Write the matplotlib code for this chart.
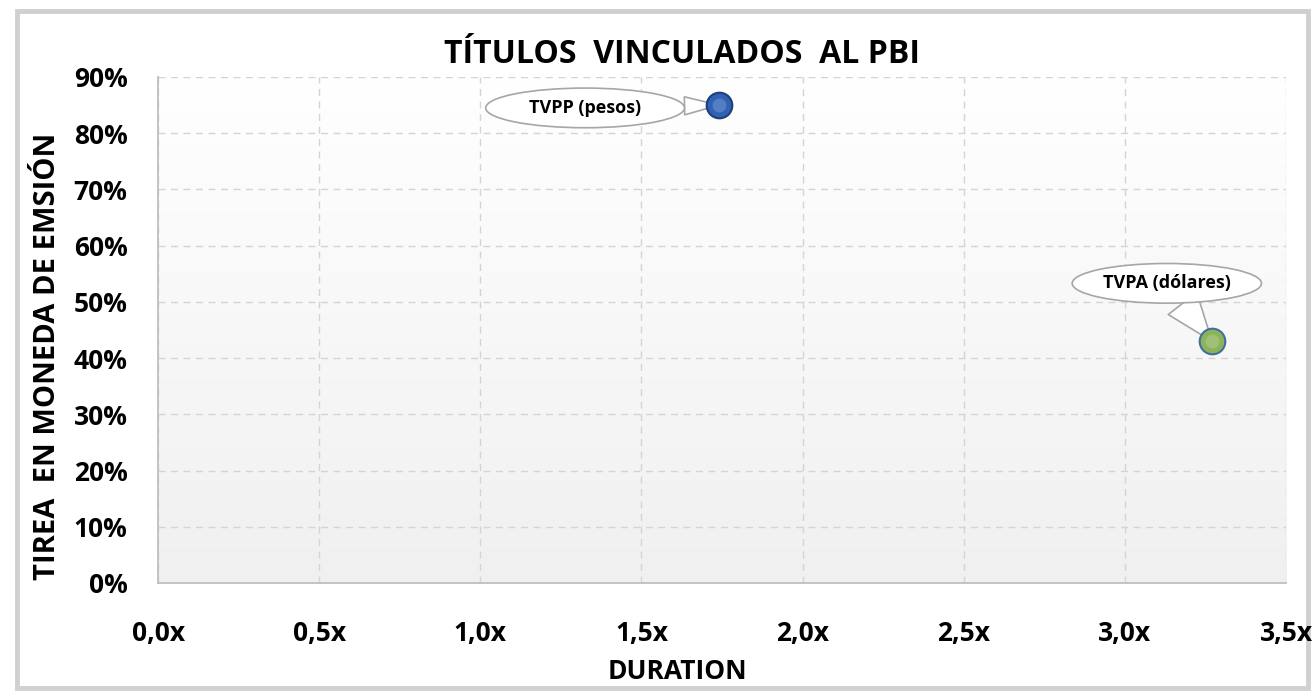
import numpy as np
import matplotlib
matplotlib.use("Agg")
import matplotlib.pyplot as plt
from matplotlib.path import Path
from matplotlib.patches import Rectangle
from matplotlib.colors import LinearSegmentedColormap
from matplotlib.ticker import FuncFormatter, MultipleLocator

# data
names = ["TVPP (pesos)", "TVPA (dólares)"]
duration = [1.74, 3.27]
tirea = [0.85, 0.43]
colors = ["#2f62b4", "#8db35a"]
edges = ["#1d3f7a", "#3f6f9f"]
label_xy = [(1.325, 0.845), (3.13, 0.533)]
tails = [1.0, 2.0]
xpads = [2.4, 1.7]

plt.rcParams["font.family"] = ["Open Sans", "DejaVu Sans"]
plt.rcParams["font.weight"] = "bold"


def ellipse_style(xpad):
    # ellipse shaped callout around the label
    def box(x0, y0, width, height, mutation_size):
        cx, cy = x0 + width / 2, y0 + height / 2
        rx, ry = width / 2 + xpad * mutation_size, height / 2 + 0.6 * mutation_size
        circ = Path.unit_circle()
        return Path(circ.vertices * [rx, ry] + [cx, cy], circ.codes)
    return box


fig = plt.figure(figsize=(13.15, 6.91), dpi=100)
fig.patches.append(Rectangle((0.013, 0.004), 0.982, 0.98, transform=fig.transFigure,
                             fill=False, ec="#d0d0d0", lw=3.5, zorder=-1))
ax = fig.add_axes([0.1202, 0.1563, 0.8578, 0.7323])
ax.patch.set_alpha(0)

# light grey gradient in plot area, white on top
grad = np.linspace(0.0, 1.0, 256).reshape(-1, 1)
ax.imshow(grad, extent=[0, 3.5, 0, 0.9], aspect="auto",
          cmap=LinearSegmentedColormap.from_list("g", ["#f0f0f0", "#ffffff"]),
          origin="lower", zorder=0)

for i in range(len(names)):
    ax.scatter(duration[i], tirea[i], s=340, c=colors[i], edgecolors=edges[i], linewidths=1.5, zorder=5)
    ax.scatter(duration[i], tirea[i], s=100, c="white", alpha=0.18, linewidths=0, zorder=6)
    ax.annotate(names[i], xy=(duration[i], tirea[i]), xytext=label_xy[i],
                ha="center", va="center", fontsize=13, fontweight="bold", zorder=4,
                bbox=dict(boxstyle=ellipse_style(xpads[i]), fc="white", ec="#a6a6a6", lw=1.2),
                arrowprops=dict(arrowstyle=f"wedge,tail_width={tails[i]},shrink_factor=0.5",
                                fc="white", ec="#a6a6a6", lw=1.2, shrinkA=0, shrinkB=0))

ax.set_xlim(0, 3.5)
ax.set_ylim(0, 0.9)
ax.xaxis.set_major_locator(MultipleLocator(0.5))
ax.yaxis.set_major_locator(MultipleLocator(0.1))
ax.xaxis.set_major_formatter(FuncFormatter(lambda v, p: f"{v:.1f}x".replace(".", ",")))
ax.yaxis.set_major_formatter(FuncFormatter(lambda v, p: f"{v * 100:.0f}%"))
ax.tick_params(length=0, labelsize=19)
ax.tick_params(axis="x", pad=27)
ax.tick_params(axis="y", pad=22)
ax.grid(True, ls=(0, (5, 4)), color="#d4d4d4", lw=1)
ax.set_axisbelow(True)
for s in ["top", "right"]:
    ax.spines[s].set_visible(False)
for s in ["left", "bottom"]:
    ax.spines[s].set_color("#bfbfbf")
    ax.spines[s].set_linewidth(1.3)

fig.text(0.519, 0.921, "TÍTULOS  VINCULADOS  AL PBI", fontsize=23, fontweight="bold",
         ha="center", va="center")
ax.set_xlabel("DURATION", fontsize=19, fontweight="bold")
ax.xaxis.set_label_coords(0.46, -0.148)
ax.set_ylabel("TIREA  EN MONEDA DE EMSIÓN", fontsize=21, fontweight="bold")
ax.yaxis.set_label_coords(-0.085, 0.447)

fig.savefig("out.png", dpi=100)
